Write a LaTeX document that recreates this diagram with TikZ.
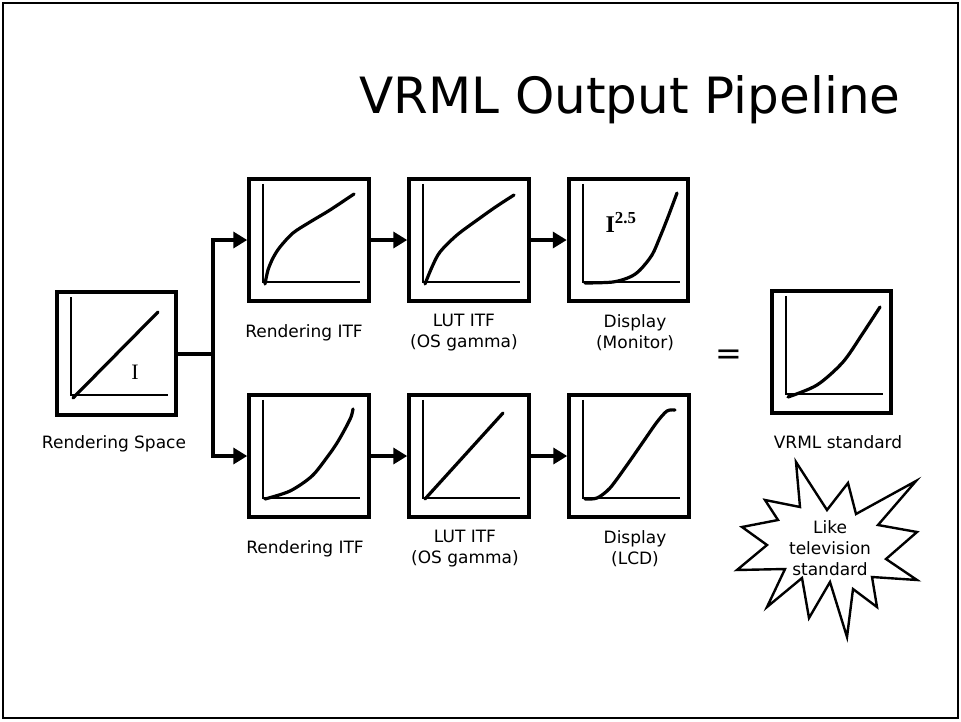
\documentclass[tikz,border=0pt]{standalone}
\usepackage{fontspec}
\setmainfont{DejaVu Sans}
\newfontfamily\serifface{Liberation Serif}
\usetikzlibrary{arrows.meta}
\tikzset{
  box/.style={draw, line width=4pt, minimum width=119.5pt, minimum height=122.5pt, inner sep=0pt},
  axis/.style={line width=2.4pt, line join=miter},
  curve/.style={line width=3.2pt, line cap=round, line join=round},
  flow/.style={line width=4pt, -{Triangle[length=14pt,width=16pt]}},
  lab/.style={font=\fontsize{17}{21}\selectfont, align=center, inner sep=0pt},
}
\newcommand\graphaxes[1]{\draw[axis] ([shift={(16,7)}]#1.north west) |- ([shift={(113,105)}]#1.north west);}
\begin{document}
\begin{tikzpicture}[x=1pt,y=-1pt]
\useasboundingbox (0,0) rectangle (961,721);
\draw[line width=2.8pt] (3,3) rectangle (958,718);

\node[anchor=base east, font=\fontsize{50}{60}\selectfont] (title) at (904,113) {VRML Output Pipeline};

% boxes
\node[box] (rs) at (116.5,353.5) {};
\node[box] (t1) at (309,240) {};
\node[box] (t2) at (469,240) {};
\node[box] (t3) at (628.5,240) {};
\node[box] (b1) at (309,456) {};
\node[box] (b2) at (469,456) {};
\node[box] (b3) at (629,456) {};
\node[box] (vr) at (831.5,352) {};

\foreach \b in {rs,t1,t2,t3,b1,b2,b3,vr} {\graphaxes{\b}}

% curves
\draw[curve] (73,398) -- (158,312);
\draw[curve] plot[smooth] coordinates {(265,284) (268,270) (273,258) (280,247) (293,233) (310,222) (330,210) (354,194)};
\draw[curve] plot[smooth] coordinates {(425,284) (432,267) (440,252) (457,235) (480,218) (497,206) (514,195)};
\draw[curve] plot[smooth] coordinates {(585,283) (613,282) (630,277) (640,270) (652,255) (660,237) (668,217) (677,193)};
\draw[curve] plot[smooth] coordinates {(265,499) (290,491) (312,476) (328,456) (337,443) (345,429) (351,417) (353,409)};
\draw[curve] (425,499) -- (503,413);
\draw[curve] plot[smooth] coordinates {(585,499) (597,498) (610,488) (627,465) (643,442) (657,422) (667,411) (675,410)};
\draw[curve] plot[smooth] coordinates {(788,397) (817,385) (843,362) (863,333) (880,307)};

% symbols in graphs
\node[font=\fontsize{22}{24}\serifface\selectfont, inner sep=0pt] (isym) at (135,372) {I};
\node[font=\fontsize{24}{26}\serifface\bfseries\selectfont, inner sep=0pt] (ipow) at (621,222) {I\textsuperscript{2.5}};

% connectors
\coordinate (j) at (213,353.5);
\draw[line width=4pt] (rs.east) -- (j);
\draw[flow] (j) |- (t1.west);
\draw[flow] (j) |- (b1.west);
\draw[flow] (t1.east) -- (t2.west);
\draw[flow] (t2.east) -- (t3.west);
\draw[flow] (b1.east) -- (b2.west);
\draw[flow] (b2.east) -- (b3.west);

% labels
\node[lab] (lrs) at (114,444) {Rendering Space};
\node[lab] (lt1) at (304,333) {Rendering ITF};
\node[lab] (lt2) at (464,333) {LUT ITF\\(OS gamma)};
\node[lab] (lt3) at (635,333) {Display\\(Monitor)};
\node[lab] (lb1) at (305,549) {Rendering ITF};
\node[lab] (lb2) at (465,549) {LUT ITF\\(OS gamma)};
\node[lab] (lb3) at (635,549) {Display\\(LCD)};
\node[lab] (lvr) at (838,442) {VRML standard};
\node[font=\fontsize{32}{36}\selectfont, inner sep=0pt] (eq) at (729,357) {=};

% starburst
\draw[line width=2.4pt, line join=miter] (796,462) -- (827,510) -- (848,483) -- (856,514) -- (916,481) -- (878,525) -- (917,532) -- (886,559) -- (917,580) -- (872,577) -- (877,607) -- (853,589) -- (847,637) -- (830,582) -- (809,618) -- (802,578) -- (767,607) -- (785,569) -- (737,570) -- (767,545) -- (742,527) -- (778,520) -- (765,500) -- (800,507) -- cycle;
\node[lab] (star) at (830,548) {Like\\television\\standard};
\end{tikzpicture}
\end{document}
